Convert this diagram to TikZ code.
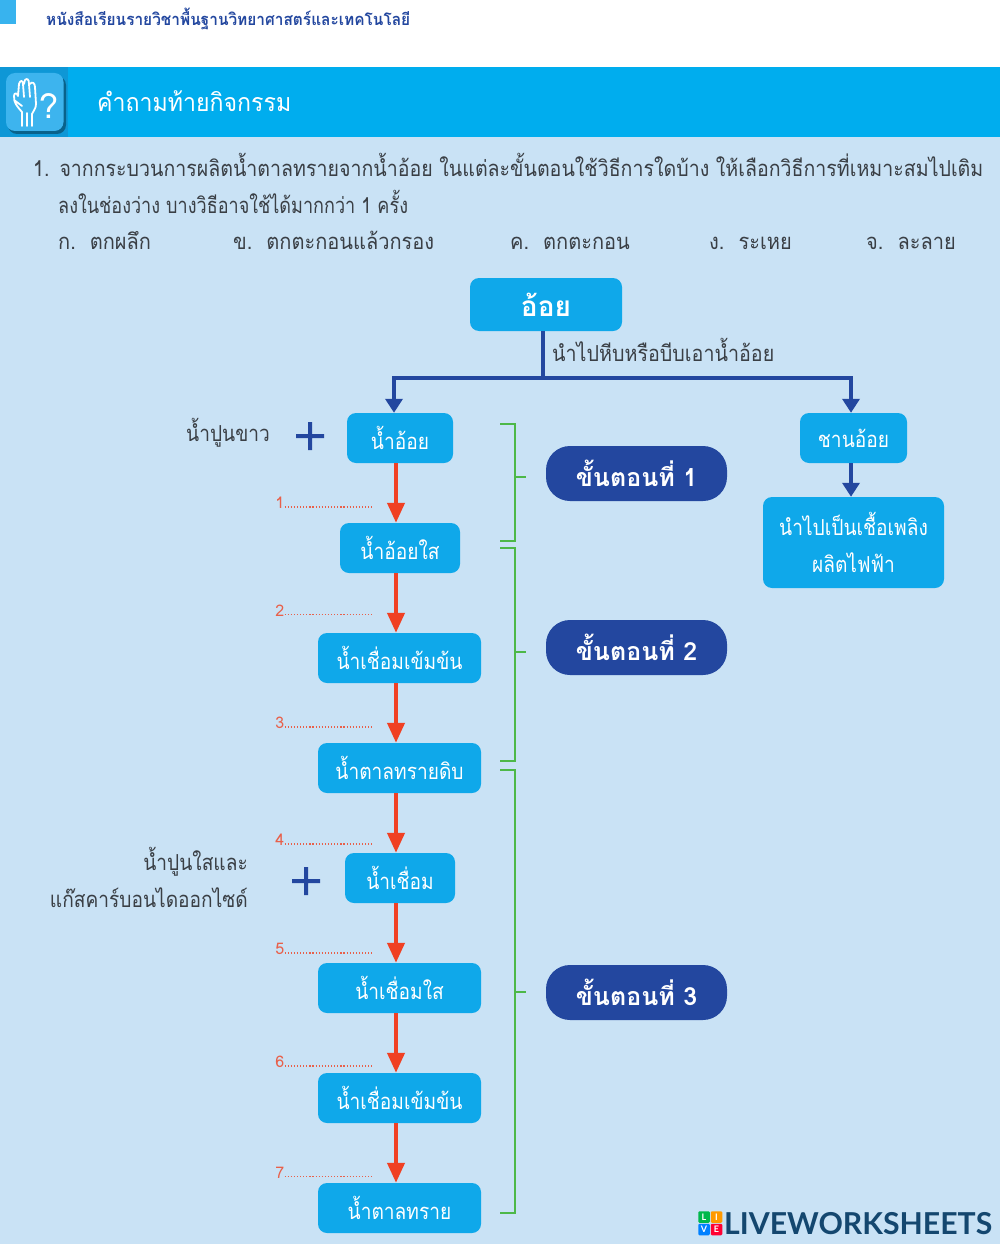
\documentclass[tikz,border=0pt]{standalone}
\usepackage{fontspec}
\setmainfont[Script=Thai]{Loma}
\newfontfamily\logofont{Lato}
\newfontfamily\thq[Script=Thai,FakeStretch=0.89]{Loma}
\newfontfamily\thqb[Script=Thai,FakeStretch=0.82]{Loma}
\newfontfamily\tho[Script=Thai,FakeStretch=0.91]{Loma}
\newfontfamily\thf[Script=Thai,FakeStretch=0.87]{Loma}
\newfontfamily\thp[Script=Thai,FakeStretch=0.895]{Loma}
\newfontfamily\thh[Script=Thai,FakeStretch=0.925]{Loma}
\newfontfamily\tht[Script=Thai,FakeStretch=0.935]{Loma}
\usetikzlibrary{arrows.meta,positioning}
\definecolor{bgblue}{HTML}{C9E2F5}
\definecolor{band}{HTML}{00ADEE}
\definecolor{bandd}{HTML}{0E97D6}
\definecolor{iconb}{HTML}{3DB4EE}
\definecolor{boxb}{HTML}{0FA8EA}
\definecolor{navy}{HTML}{23479F}
\definecolor{redl}{HTML}{F04023}
\definecolor{redd}{HTML}{E8604A}
\definecolor{greenl}{HTML}{4DB848}
\definecolor{txt}{HTML}{3A3F45}
\definecolor{logob}{HTML}{14476F}
\tikzset{
  flow/.style={rectangle,rounded corners=9pt,fill=boxb,text=white,inner sep=0pt,font=\thf\fontsize{22}{26}\selectfont,align=center},
  stepbox/.style={rectangle,rounded corners=24pt,fill=navy,text=white,inner sep=0pt,minimum width=181pt,minimum height=55pt,font=\fontsize{25}{30}\selectfont\bfseries},
  body/.style={text=txt,inner sep=0pt,text height=16pt,text depth=6pt,font=\thf\fontsize{22}{26}\selectfont},
  qline/.style={body,font=\thq\fontsize{22}{26}\selectfont},
  qlineb/.style={body,font=\thqb\fontsize{22}{26}\selectfont},
  optline/.style={body,font=\tho\fontsize{22}{26}\selectfont},
  redarrow/.style={draw=redl,line width=4pt,-{Triangle[length=20pt,width=17pt]}},
  bluearrow/.style={draw=navy,line width=3.8pt,-{Triangle[length=14pt,width=17pt]}},
  blueline/.style={draw=navy,line width=3.8pt},
  bracket/.style={draw=greenl,line width=2pt},
  dots/.style={draw=redd,line width=1.2pt,dash pattern=on 1.2pt off 1.9pt},
  blank/.style={text=redd,inner sep=0pt,font=\fontsize{16}{18}\selectfont},
  plusmark/.style={text=navy,inner sep=0pt},
  handline/.style={draw=white,line width=1.8pt,line cap=round,line join=round},
  logosq/.style={rounded corners=1.2pt,inner sep=0pt,minimum size=11.5pt,text=white,font=\logofont\bfseries\fontsize{9}{9}\selectfont}
}
\begin{document}
\begin{tikzpicture}[x=1pt,y=-1pt]
\useasboundingbox (0,0) rectangle (1000,1244);
\fill[white] (0,0) rectangle (1000,1244);
\fill[bgblue] (0,137) rectangle (1000,1244);
\fill[iconb!90!boxb] (0,0) rectangle (16,24);
\node[anchor=west,inner sep=0pt,text=navy,font=\tht\fontsize{16.5}{20}\selectfont\bfseries] (booktitle) at (46,19) {หนังสือเรียนรายวิชาพื้นฐานวิทยาศาสตร์และเทคโนโลยี};
% header band
\fill[band] (0,67) rectangle (1000,137);
\fill[bandd] (0,67) rectangle (68,137);
\fill[black!35!bandd,rounded corners=9pt] (8,76) rectangle (66,134);
\fill[iconb,rounded corners=9pt] (6,73) rectangle (63.5,131);
% hand icon
\draw[handline] (22,126) -- (22,112) .. controls (16,105) and (14,103) .. (14,96) .. controls (14,93) and (17,92) .. (18,96)
  (18,96) -- (19,84) .. controls (20,80) and (23,80) .. (23,84) -- (24,97)
  (24,84) -- (25,80) .. controls (27,78) and (29,79) .. (29,84) -- (30,97)
  (30,84) .. controls (32,81) and (35,83) .. (35,87) -- (36,104) .. controls (36,109) and (33,111) .. (32,114) -- (32,126)
  (27,126) -- (27,113) (14,100) -- (22,106);
\node[inner sep=0pt,text=white,font=\fontsize{34}{34}\selectfont] (qmark) at (49,106) {?};
\node[anchor=west,inner sep=0pt,text=white,font=\thh\fontsize{25}{30}\selectfont] (headtitle) at (97,101) {คำถามท้ายกิจกรรม};
% question text
\node[qline,anchor=west] (q1) at (33,171) {1.\hspace{10pt}จากกระบวนการผลิตน้ำตาลทรายจากน้ำอ้อย ในแต่ละขั้นตอนใช้วิธีการใดบ้าง ให้เลือกวิธีการที่เหมาะสมไปเติม};
\node[qlineb,anchor=west] (q2) at (58,208) {ลงในช่องว่าง บางวิธีอาจใช้ได้มากกว่า 1 ครั้ง};
\node[optline,anchor=west] (o1) at (58,244) {ก.\hspace{14pt}ตกผลึก};
\node[optline,anchor=west] (o2) at (233,244) {ข.\hspace{14pt}ตกตะกอนแล้วกรอง};
\node[optline,anchor=west] (o3) at (510,244) {ค.\hspace{14pt}ตกตะกอน};
\node[optline,anchor=west] (o4) at (709,244) {ง.\hspace{14pt}ระเหย};
\node[optline,anchor=west] (o5) at (866,244) {จ.\hspace{14pt}ละลาย};
% flow boxes
\node[flow,minimum width=152pt,minimum height=53pt,font=\fontsize{28}{32}\selectfont\bfseries] (cane) at (546,304.5) {อ้อย};
\node[flow,minimum width=106pt,minimum height=50pt] (n1) at (400,438) {น้ำอ้อย};
\node[flow,minimum width=120pt,minimum height=50pt] (n2) at (400,548) {น้ำอ้อยใส};
\node[flow,minimum width=163pt,minimum height=50pt] (n3) at (399.5,658) {น้ำเชื่อมเข้มข้น};
\node[flow,minimum width=163pt,minimum height=50pt] (n4) at (399.5,768) {น้ำตาลทรายดิบ};
\node[flow,minimum width=110pt,minimum height=50pt] (n5) at (400,878) {น้ำเชื่อม};
\node[flow,minimum width=163pt,minimum height=50pt] (n6) at (399.5,988) {น้ำเชื่อมใส};
\node[flow,minimum width=163pt,minimum height=50pt] (n7) at (399.5,1098) {น้ำเชื่อมเข้มข้น};
\node[flow,minimum width=163pt,minimum height=50pt] (n8) at (399.5,1208) {น้ำตาลทราย};
\node[flow,minimum width=107pt,minimum height=50pt] (bag) at (853.5,438) {ชานอ้อย};
\node[flow,minimum width=181pt,minimum height=91pt,font=\thf\fontsize{22}{37}\selectfont] (fuel) at (853.5,542.5) {นำไปเป็นเชื้อเพลิง\\ผลิตไฟฟ้า};
% anchors for the off-centre arrow column
\coordinate (ax) at (396,0);
\coordinate (bx) at (394,0);
\coordinate (cx) at (851,0);
\coordinate (tx) at (543,0);
\coordinate (hy) at (0,378);
% blue connectors
\node[body,anchor=west,font=\thp\fontsize{22}{26}\selectfont] (press) at (552,356) {นำไปหีบหรือบีบเอาน้ำอ้อย};
\draw[blueline] (cane.south -| tx) -- (hy -| tx);
\draw[bluearrow] (hy -| tx) -- (hy -| bx) -- (n1.north -| bx);
\draw[bluearrow] (hy -| tx) -- (hy -| cx) -- (bag.north -| cx);
\draw[bluearrow] (bag.south -| cx) -- (fuel.north -| cx);
% red connectors
\foreach \a/\b in {n1/n2,n2/n3,n3/n4,n4/n5,n5/n6,n6/n7,n7/n8}{
  \draw[redarrow] (\a.south -| ax) -- (\b.north -| ax);
}
% blanks
\foreach \n/\y in {1/503,2/610.5,3/723,4/840,5/949,6/1062,7/1172.5}{
  \node[blank,anchor=east] (num\n) at (284.5,\y) {\n};
  \coordinate (dotend\n) at (372,\y+4);
  \draw[dots] (num\n.east |- dotend\n) -- (dotend\n);
}
% brackets
\draw[bracket] (500,424) -- (514.5,424) -- (514.5,541) -- (500,541);
\draw[bracket] (500,548) -- (514.5,548) -- (514.5,761) -- (500,761);
\draw[bracket] (500,770) -- (514.5,770) -- (514.5,1213) -- (500,1213);
\node[stepbox] (s1) at (636.5,473.5) {ขั้นตอนที่ 1};
\node[stepbox] (s2) at (636.5,647.5) {ขั้นตอนที่ 2};
\node[stepbox] (s3) at (636.5,992.5) {ขั้นตอนที่ 3};
\coordinate (b1) at (514.5,477);
\coordinate (b2) at (514.5,652);
\coordinate (b3) at (514.5,992);
\draw[bracket] (b1) -- (526,477);
\draw[bracket] (b2) -- (526,652);
\draw[bracket] (b3) -- (526,992);
% additions
\node[body,anchor=east] (lime) at (270,436) {น้ำปูนขาว};
\node[plusmark] (p1) at (310,436) {\tikz[x=1pt,y=1pt]{\fill[navy] (-14,-2) rectangle (14,2) (-2,-14) rectangle (2,14);}};
\node[body,anchor=east] (lime2) at (248,865) {น้ำปูนใสและ};
\node[body,anchor=east] (co2) at (248,902) {แก๊สคาร์บอนไดออกไซด์};
\node[plusmark] (p2) at (306,881) {\tikz[x=1pt,y=1pt]{\fill[navy] (-14,-2) rectangle (14,2) (-2,-14) rectangle (2,14);}};
% watermark
\node[logosq,fill=green!60!black!70!cyan] (la) at (704,1217) {L};
\node[logosq,fill=orange!80!yellow] (lb) at (716.5,1217) {I};
\node[logosq,fill=blue!50!cyan] (lc) at (704,1229.5) {V};
\node[logosq,fill=red!80!magenta] (ld) at (716.5,1229.5) {E};
\node[anchor=west,inner sep=0pt,text=logob,font=\logofont\bfseries\fontsize{30.2}{30}\selectfont] (logo) at (724,1224) {LIVEWORKSHEETS};
\end{tikzpicture}
\end{document}
